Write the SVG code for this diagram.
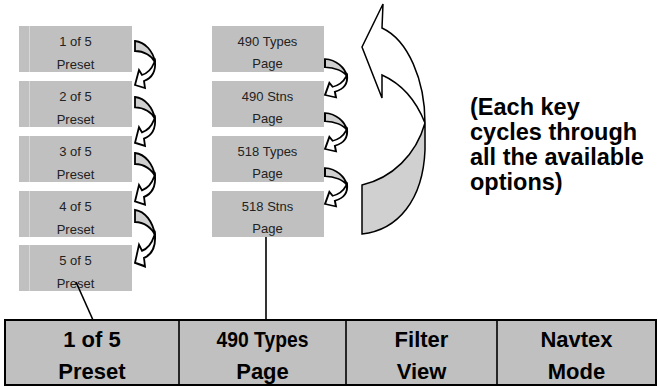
<svg xmlns="http://www.w3.org/2000/svg" width="658" height="387" viewBox="0 0 658 387">
<style>
.box{fill:#c0c0c0}
.stripe{stroke:#d8d8d8;stroke-width:1}
.sm{font-family:"Liberation Sans",Arial,sans-serif;font-size:13px;fill:#222;text-anchor:middle}
.bar{fill:#c0c0c0;stroke:#000;stroke-width:2}
.bt{font-family:"Liberation Sans",Arial,sans-serif;font-size:22px;font-weight:bold;fill:#000;text-anchor:middle}
.note{font-family:"Liberation Sans",Arial,sans-serif;font-size:23.5px;font-weight:bold;fill:#000}
.ln{stroke:#000;stroke-width:1.6;fill:none}
.back{fill:#d0d0d0;stroke:#000;stroke-width:1.5;stroke-linejoin:miter}
.front{fill:#fff;stroke:#000;stroke-width:1.5;stroke-linejoin:miter}
.curl .back,.curl .front{stroke-width:1.8}
</style>
<defs>
<g id="curl" class="curl">
<path class="back" d="M0,0 C10,1 18,10 20,21 C17,15 9,10 0,10 Z"/>
<path class="front" d="M20,20 C21,31 17,37 9,40 L10,47 L0,44 L4,29 L7,34 C13,32 17,27 19,22 Z"/>
</g>
</defs>
<g id="presets">
<g id="p1"><rect class="box" x="19" y="26" width="113" height="46"/><line class="stripe" x1="29.5" y1="26" x2="29.5" y2="72"/><text class="sm" x="75.5" y="46">1 of 5</text><text class="sm" x="75.5" y="69">Preset</text></g>
<g id="p2"><rect class="box" x="19" y="81" width="113" height="46"/><line class="stripe" x1="29.5" y1="81" x2="29.5" y2="127"/><text class="sm" x="75.5" y="101">2 of 5</text><text class="sm" x="75.5" y="124">Preset</text></g>
<g id="p3"><rect class="box" x="19" y="136" width="113" height="46"/><line class="stripe" x1="29.5" y1="136" x2="29.5" y2="182"/><text class="sm" x="75.5" y="156">3 of 5</text><text class="sm" x="75.5" y="179">Preset</text></g>
<g id="p4"><rect class="box" x="19" y="191" width="113" height="46"/><line class="stripe" x1="29.5" y1="191" x2="29.5" y2="237"/><text class="sm" x="75.5" y="211">4 of 5</text><text class="sm" x="75.5" y="234">Preset</text></g>
<g id="p5"><rect class="box" x="19" y="245" width="113" height="46"/><line class="stripe" x1="29.5" y1="245" x2="29.5" y2="291"/><text class="sm" x="75.5" y="265">5 of 5</text><text class="sm" x="75.5" y="288">Preset</text></g>
</g>
<g id="pages">
<g id="g1"><rect class="box" x="212" y="26" width="112" height="46"/><text class="sm" x="267.5" y="46">490 Types</text><text class="sm" x="267.5" y="68">Page</text></g>
<g id="g2"><rect class="box" x="212" y="81" width="112" height="46"/><text class="sm" x="267.5" y="101">490 Stns</text><text class="sm" x="267.5" y="123">Page</text></g>
<g id="g3"><rect class="box" x="212" y="136" width="112" height="46"/><text class="sm" x="267.5" y="156">518 Types</text><text class="sm" x="267.5" y="178">Page</text></g>
<g id="g4"><rect class="box" x="212" y="191" width="112" height="46"/><text class="sm" x="267.5" y="211">518 Stns</text><text class="sm" x="267.5" y="233">Page</text></g>
</g>
<g id="softkeys">
<rect class="bar" x="5" y="320" width="651" height="65"/>
<line class="ln" x1="179" y1="320" x2="179" y2="385" stroke-width="2"/>
<line class="ln" x1="346" y1="320" x2="346" y2="385" stroke-width="2"/>
<line class="ln" x1="497" y1="320" x2="497" y2="385" stroke-width="2"/>
<g id="k1"><text class="bt" x="92" y="347">1 of 5</text><text class="bt" x="92" y="379">Preset</text></g>
<g id="k2"><text class="bt" x="262.5" y="347" textLength="92" lengthAdjust="spacingAndGlyphs">490 Types</text><text class="bt" x="262.5" y="379">Page</text></g>
<g id="k3"><text class="bt" x="421.5" y="347">Filter</text><text class="bt" x="421.5" y="379">View</text></g>
<g id="k4"><text class="bt" x="576.5" y="347">Navtex</text><text class="bt" x="576.5" y="379">Mode</text></g>
</g>
<g id="connectors">
<use href="#curl" transform="translate(135,41)"/>
<use href="#curl" transform="translate(135,97) scale(1,1.04)"/>
<use href="#curl" transform="translate(135,153) scale(1,1.1)"/>
<use href="#curl" transform="translate(135,210) scale(1,1.2)"/>
<use href="#curl" transform="translate(325,59) scale(1.1,0.82)"/>
<use href="#curl" transform="translate(325,113) scale(1.1,0.82)"/>
<use href="#curl" transform="translate(325,168) scale(1.1,0.82)"/>
<g id="cycle">
<path class="back" d="M362,185 C392,178 416,155 425,123 L425,150 C423,200 398,230 362,234 Z"/>
<path class="front" d="M383,4 L382,28 C408,40 425,80 425,123 C416,100 402,84 382,75 L382,98 L362,47 Z"/>
</g>
<line class="ln" x1="76" y1="282" x2="93" y2="320"/>
<line class="ln" x1="266" y1="237" x2="266" y2="320"/>
</g>
<g id="note">
<text class="note" x="470" y="115">(Each key</text>
<text class="note" x="470" y="140">cycles through</text>
<text class="note" x="470" y="165">all the available</text>
<text class="note" x="470" y="190">options)</text>
</g>
</svg>
